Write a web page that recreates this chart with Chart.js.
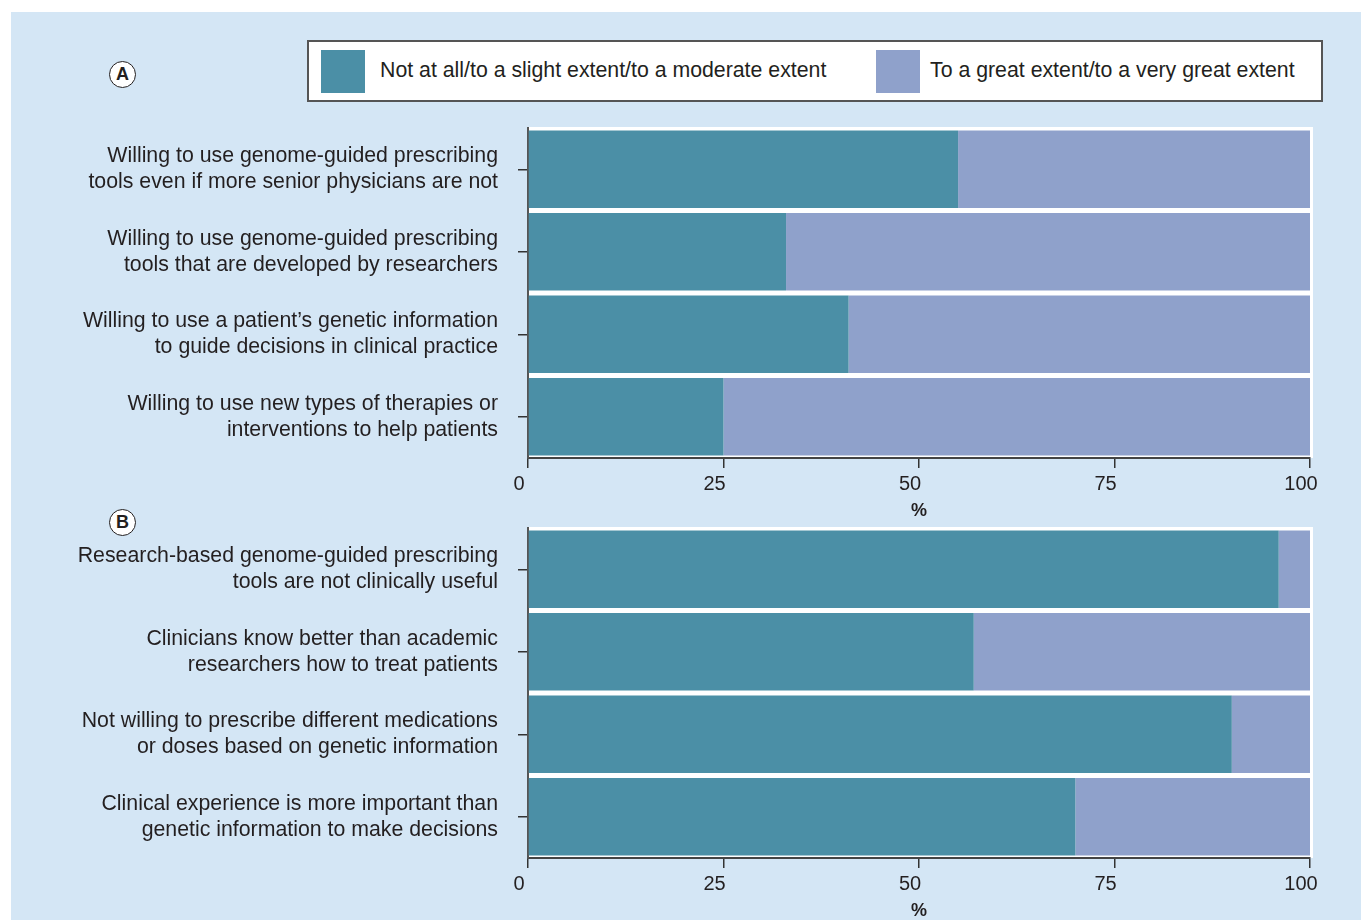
<!DOCTYPE html>
<html>
<head>
<meta charset="utf-8">
<script src="https://cdn.jsdelivr.net/npm/chart.js@4.4.1/dist/chart.umd.min.js"></script>
<style>
  body { margin: 0; background: #fff; font-family: "Liberation Sans", Arial, sans-serif; color: #231f20; }
  #panel { position: absolute; left: 11px; top: 12px; width: 1350px; height: 908px; background: #d4e6f5; }
  .chartbox { position: absolute; left: 11px; width: 1340px; }
  #legend { position: absolute; left: 307px; top: 40px; width: 1016px; height: 62px; box-sizing: border-box;
            background: #fff; border: 2px solid #555; }
  .legend-color { position: absolute; top: 8px; width: 44px; height: 43px; }
  .legend-label { position: absolute; top: 16px; font-size: 21.3px; white-space: nowrap; }
  .tag { position: absolute; width: 25px; height: 25px; border-radius: 50%; border: 1.5px solid #231f20;
         background: #fff; font-weight: bold; font-size: 18px; line-height: 25px; text-align: center; }
</style>
</head>
<body>
<div id="panel"></div>
<div id="legend"></div>
<div class="tag" style="left:109px; top:61px;">A</div>
<div class="tag" style="left:109px; top:509px;">B</div>
<div class="chartbox" style="top:110px; height:410px;"><canvas id="chartA" width="1340" height="410"></canvas></div>
<div class="chartbox" style="top:518px; height:402px;"><canvas id="chartB" width="1340" height="402"></canvas></div>
<script>
const seriesNames = ['Not at all/to a slight extent/to a moderate extent', 'To a great extent/to a very great extent'];
const seriesColors = ['#4b8fa6', '#8fa1cb'];

const categoriesA = [
    ['Willing to use genome-guided prescribing', 'tools even if more senior physicians are not'],
    ['Willing to use genome-guided prescribing', 'tools that are developed by researchers'],
    ['Willing to use a patient\u2019s genetic information', 'to guide decisions in clinical practice'],
    ['Willing to use new types of therapies or', 'interventions to help patients']
];
const lowA = [55, 33, 41, 25];
const highA = [45, 67, 59, 75];

const categoriesB = [
    ['Research-based genome-guided prescribing', 'tools are not clinically useful'],
    ['Clinicians know better than academic', 'researchers how to treat patients'],
    ['Not willing to prescribe different medications', 'or doses based on genetic information'],
    ['Clinical experience is more important than', 'genetic information to make decisions']
];
const lowB = [96, 57, 90, 70];
const highB = [4, 43, 10, 30];

const xTicks = [0, 25, 50, 75, 100];

// white plot background behind the bars
const plotBg = {
    id: 'plotBg',
    beforeDraw(chart) {
        const a = chart.chartArea;
        const ctx = chart.ctx;
        ctx.save();
        ctx.fillStyle = '#fff';
        ctx.fillRect(a.left, a.top - 1, a.right - a.left + 3, a.bottom - a.top + 1);
        ctx.restore();
    }
};

function makeChart(id, labels, low, high, padTop) {
    return new Chart(document.getElementById(id), {
        type: 'bar',
        data: {
            labels: labels,
            datasets: [
                { label: seriesNames[0], data: low, backgroundColor: seriesColors[0] },
                { label: seriesNames[1], data: high, backgroundColor: seriesColors[1] }
            ]
        },
        options: {
            indexAxis: 'y',
            responsive: false,
            animation: false,
            barPercentage: 0.94,
            categoryPercentage: 1,
            layout: { padding: { top: padTop, right: 41, left: 0, bottom: 0 } },
            plugins: {
                legend: { display: false },
                tooltip: { enabled: false }
            },
            scales: {
                x: {
                    stacked: true,
                    min: 0,
                    max: 100,
                    afterBuildTicks: (scale) => { scale.ticks = xTicks.map(v => ({ value: v })); },
                    afterFit: (scale) => { scale.height = 62; scale.paddingLeft = 0; scale.paddingRight = 0; },
                    border: { display: true, color: '#444', width: 2 },
                    grid: { drawOnChartArea: false, drawTicks: true, tickLength: 10, color: '#333', lineWidth: 1.5 },
                    ticks: { color: '#231f20', padding: 4, labelOffset: -9, maxRotation: 0,
                             font: { family: 'Liberation Sans', size: 20 } },
                    title: { display: true, text: '%', color: '#231f20', padding: 0,
                             font: { family: 'Liberation Sans', size: 18, weight: 'bold', lineHeight: 1 } }
                },
                y: {
                    stacked: true,
                    afterFit: (scale) => { scale.width = 517; scale.paddingTop = 0; scale.paddingBottom = 0; },
                    border: { display: true, color: '#555', width: 2 },
                    grid: { offset: false, drawOnChartArea: false, drawTicks: true, tickLength: 10, color: '#333', lineWidth: 1.5 },
                    ticks: { color: '#231f20', padding: 20, autoSkip: false,
                             font: { family: 'Liberation Sans', size: 21.3, lineHeight: 1.22 } }
                }
            }
        },
        plugins: [plotBg]
    });
}

makeChart('chartA', categoriesA, lowA, highA, 18);
makeChart('chartB', categoriesB, lowB, highB, 10);

const legendContainer = document.getElementById('legend');
legendContainer.innerHTML = seriesNames.map((name, i) => {
    const left = i === 0 ? 12 : 567;
    const gap = i === 0 ? 59 : 54;
    return `
    <span class="legend-color" style="left:${left}px; background-color:${seriesColors[i]};"></span>
    <span class="legend-label" style="left:${left + gap}px;">${name}</span>
  `;
}).join('');
</script>
</body>
</html>
